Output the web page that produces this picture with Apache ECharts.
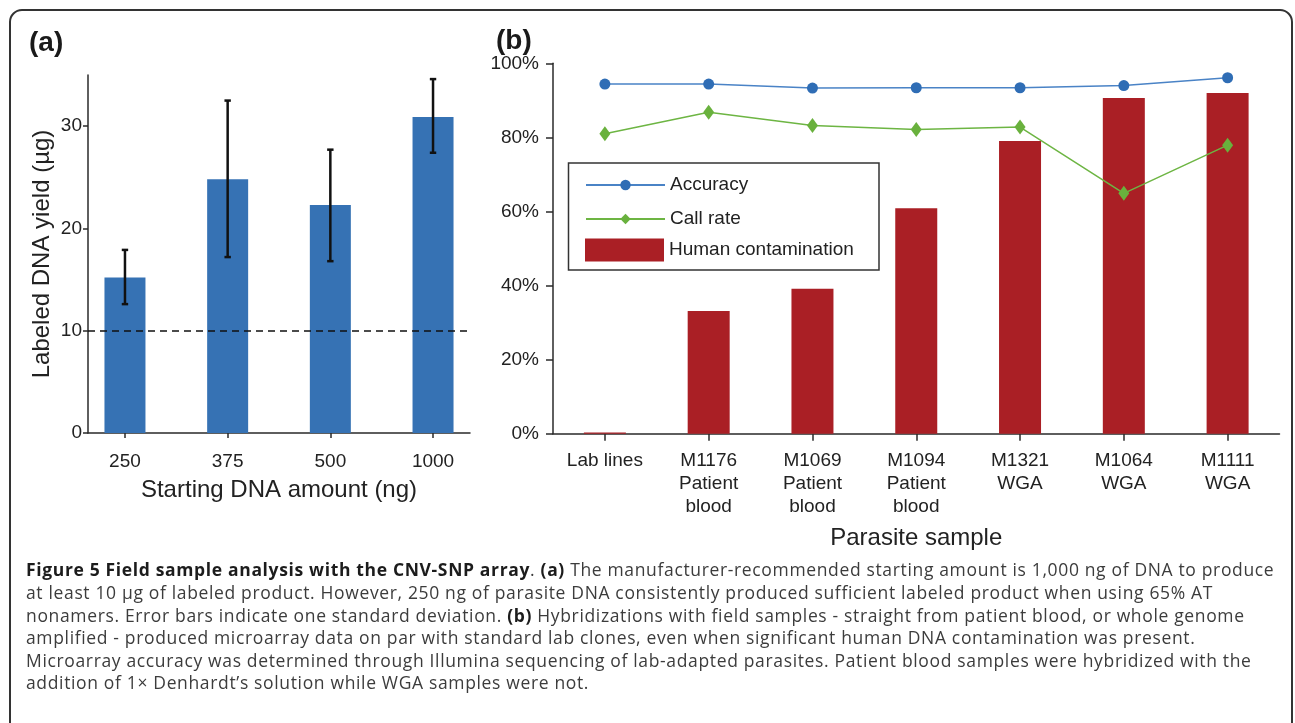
<!DOCTYPE html>
<html><head><meta charset="utf-8">
<script src="https://cdn.jsdelivr.net/npm/echarts@6/dist/echarts.min.js"></script>
<style>
html,body{margin:0;padding:0;background:#fff}
#wrap{position:relative;width:1295px;height:723px;overflow:hidden}
#c{position:absolute;left:0;top:0;width:1295px;height:723px}
#cap{position:absolute;left:26px;top:558.4px;font-family:'Open Sans','Liberation Sans',sans-serif;font-size:17.5px;letter-spacing:0.65px;line-height:22.6px;white-space:nowrap;color:#3c3c3c}
#cap b{color:#1c1c1c;font-weight:700}
</style>
</head><body><div id="wrap"><div id="c"></div><div id="cap"></div></div>
<script>
// ---- Panel (a) data ----
const amounts = ['250', '375', '500', '1000'];
const yields = [15.2, 24.8, 22.3, 30.9];
const yieldLow = [12.6, 17.2, 16.8, 27.4];
const yieldHigh = [17.9, 32.5, 27.7, 34.6];
const threshold = 10;
const yieldTicks = [0, 10, 20, 30];

// ---- Panel (b) data ----
const samples = ['Lab lines', 'M1176\nPatient\nblood', 'M1069\nPatient\nblood', 'M1094\nPatient\nblood', 'M1321\nWGA', 'M1064\nWGA', 'M1111\nWGA'];
const contamination = [0.3, 33.1, 39.1, 60.9, 79.0, 90.6, 92.0];
const accuracy = [94.4, 94.4, 93.3, 93.4, 93.4, 94.0, 96.1];
const callRate = [81.0, 86.8, 83.2, 82.1, 82.8, 64.9, 77.9];
const pctTicks = [0, 20, 40, 60, 80, 100];

// ---- Caption (HTML text) ----
const captionLines = [
  '<b>Figure 5 Field sample analysis with the CNV-SNP array</b>. <b>(a)</b> The manufacturer-recommended starting amount is 1,000 ng of DNA to produce',
  'at least 10 µg of labeled product. However, 250 ng of parasite DNA consistently produced sufficient labeled product when using 65% AT',
  'nonamers. Error bars indicate one standard deviation. <b>(b)</b> Hybridizations with field samples - straight from patient blood, or whole genome',
  'amplified - produced microarray data on par with standard lab clones, even when significant human DNA contamination was present.',
  'Microarray accuracy was determined through Illumina sequencing of lab-adapted parasites. Patient blood samples were hybridized with the',
  'addition of 1× Denhardt’s solution while WGA samples were not.'
];
document.getElementById('cap').innerHTML = captionLines.join('<br>');

const F = "'Liberation Sans', Arial, Helvetica, sans-serif";
const axisColor = '#2a2a2a';
const txt = '#222';

const chart = echarts.init(document.getElementById('c'));

const option = {
  animation: false,
  backgroundColor: '#fff',
  textStyle: { fontFamily: F },
  grid: [
    { left: 88, top: 75, width: 382, height: 358 },
    { left: 553, top: 63.3, width: 726.5, height: 370.4 }
  ],
  xAxis: [
    {
      type: 'value', gridIndex: 0, min: -0.36, max: 3.36,
      axisLine: { show: true, onZero: false, lineStyle: { color: axisColor, width: 1.5 } },
      axisTick: { show: true, customValues: [0, 1, 2, 3], length: 5, lineStyle: { color: axisColor, width: 1.5 } },
      axisLabel: { customValues: [0, 1, 2, 3], formatter: v => amounts[Math.round(v)], fontSize: 19, lineHeight: 23, margin: 17, color: txt, fontFamily: F },
      splitLine: { show: false },
      name: 'Starting DNA amount (ng)', nameLocation: 'middle', nameGap: 45,
      nameTextStyle: { fontSize: 24, color: txt, fontFamily: F }
    },
    {
      type: 'category', gridIndex: 1, data: samples, boundaryGap: true,
      axisLine: { show: true, lineStyle: { color: axisColor, width: 1.5 } },
      axisTick: { show: true, alignWithLabel: true, length: 7, lineStyle: { color: axisColor, width: 1.5 } },
      axisLabel: { interval: 0, fontSize: 19, lineHeight: 23, margin: 16, color: txt, fontFamily: F },
      name: 'Parasite sample', nameLocation: 'middle', nameGap: 93,
      nameTextStyle: { fontSize: 24, color: txt, fontFamily: F }
    }
  ],
  yAxis: [
    {
      type: 'value', gridIndex: 0, min: 0, max: 35,
      axisLine: { show: true, onZero: false, lineStyle: { color: axisColor, width: 1.5 } },
      axisTick: { show: true, customValues: yieldTicks, length: 5, lineStyle: { color: axisColor, width: 1.5 } },
      axisLabel: { customValues: yieldTicks, fontSize: 19, margin: 6, color: txt, fontFamily: F },
      splitLine: { show: false },
      name: 'Labeled DNA yield (µg)', nameLocation: 'middle', nameGap: 34, nameRotate: 90,
      nameTextStyle: { fontSize: 24, color: txt, fontFamily: F }
    },
    {
      type: 'value', gridIndex: 1, min: 0, max: 100, interval: 20,
      axisLine: { show: true, onZero: false, lineStyle: { color: axisColor, width: 1.5 } },
      axisTick: { show: true, length: 7, lineStyle: { color: axisColor, width: 1.5 } },
      axisLabel: { formatter: '{value}%', fontSize: 19, margin: 14, color: txt, fontFamily: F },
      splitLine: { show: false }
    }
  ],
  legend: [
    {
      data: ['Accuracy', 'Call rate'], orient: 'vertical', left: 585, top: 175.5,
      itemWidth: 79, itemHeight: 13, itemGap: 15, padding: 0, selectedMode: false,
      textStyle: { fontSize: 19, color: txt, fontFamily: F }
    },
    {
      data: ['Human contamination'], orient: 'vertical', left: 585, top: 238.5,
      itemWidth: 79, itemHeight: 23, padding: 0, selectedMode: false, icon: 'rect',
      textStyle: { fontSize: 19, color: txt, fontFamily: F }
    }
  ],
  graphic: [
    { type: 'rect', shape: { x: 10, y: 10, width: 1282, height: 760, r: 12 }, style: { fill: 'none', stroke: '#333', lineWidth: 2 }, silent: true },
    { type: 'rect', shape: { x: 568.5, y: 163, width: 310.5, height: 107 }, style: { fill: '#fff', stroke: '#333', lineWidth: 1.5 }, silent: true },
    { type: 'text', x: 29, y: 43, style: { text: '(a)', fontFamily: F, fontWeight: 'bold', fontSize: 28, fill: '#1a1a1a', verticalAlign: 'middle' } },
    { type: 'text', x: 496, y: 41, style: { text: '(b)', fontFamily: F, fontWeight: 'bold', fontSize: 28, fill: '#1a1a1a', verticalAlign: 'middle' } }
  ],
  series: [
    {
      name: 'Labeled DNA yield', type: 'bar', xAxisIndex: 0, yAxisIndex: 0,
      data: amounts.map((a, i) => [i, yields[i]]),
      barWidth: 41, itemStyle: { color: '#3672b4' },
      markLine: {
        silent: true, symbol: ['none', 'none'], label: { show: false },
        lineStyle: { color: '#111', type: [7, 5], width: 1.5 },
        data: [{ yAxis: threshold }]
      }
    },
    {
      name: 'SD', type: 'custom', xAxisIndex: 0, yAxisIndex: 0, z: 10,
      data: amounts.map((a, i) => [i, yieldLow[i], yieldHigh[i]]),
      encode: { x: 0, y: [1, 2] },
      renderItem: (params, api) => {
        const x = api.value(0);
        const lo = api.coord([x, api.value(1)]);
        const hi = api.coord([x, api.value(2)]);
        const cw = 3.2;
        const style = { stroke: '#111', lineWidth: 2.5 };
        return {
          type: 'group', children: [
            { type: 'line', shape: { x1: lo[0], y1: lo[1], x2: hi[0], y2: hi[1] }, style },
            { type: 'line', shape: { x1: hi[0] - cw, y1: hi[1], x2: hi[0] + cw, y2: hi[1] }, style },
            { type: 'line', shape: { x1: lo[0] - cw, y1: lo[1], x2: lo[0] + cw, y2: lo[1] }, style }
          ]
        };
      }
    },
    {
      name: 'Human contamination', type: 'bar', xAxisIndex: 1, yAxisIndex: 1,
      data: contamination, barWidth: 42, itemStyle: { color: '#aa1f25' }
    },
    {
      name: 'Accuracy', type: 'line', xAxisIndex: 1, yAxisIndex: 1, z: 5,
      data: accuracy, symbol: 'circle', symbolSize: 11,
      lineStyle: { color: '#4a83c6', width: 1.5 }, itemStyle: { color: '#2f6db5' }
    },
    {
      name: 'Call rate', type: 'line', xAxisIndex: 1, yAxisIndex: 1, z: 5,
      data: callRate, symbol: 'diamond', symbolSize: [11, 15],
      lineStyle: { color: '#6db543', width: 1.5 }, itemStyle: { color: '#69b13d' }
    }
  ]
};
chart.setOption(option);
</script></body></html>
